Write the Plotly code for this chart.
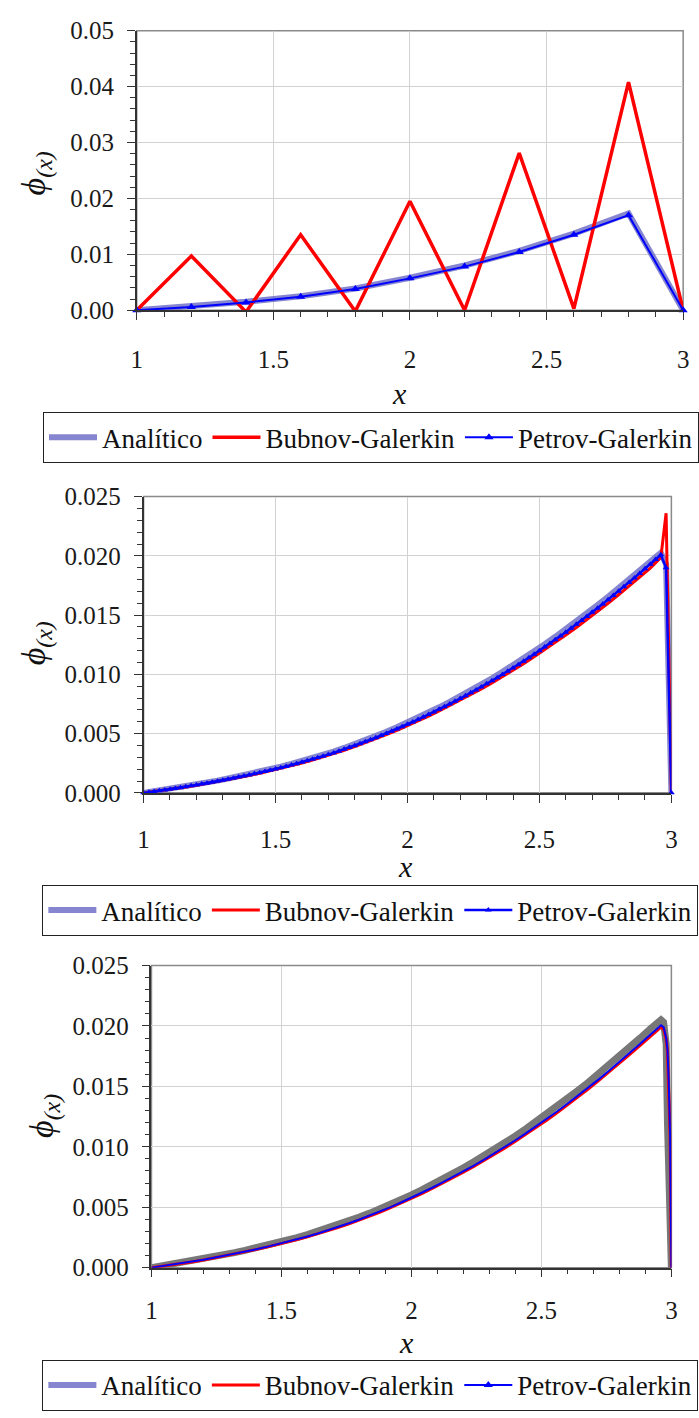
import numpy as np
import plotly.graph_objects as go

# ---------------------------------------------------------------
# Panel 1: coarse mesh (10 elements)
# ---------------------------------------------------------------
x_top = [1.0, 1.2, 1.4, 1.6, 1.8, 2.0, 2.2, 2.4, 2.6, 2.8, 3.0]
analitico_top = [0.0, 0.0007, 0.0015, 0.0025, 0.0039, 0.0058, 0.0080, 0.0106, 0.0137, 0.0173, 0.0]
bubnov_top = [0.0, 0.0097, -0.0003, 0.0135, -0.0002, 0.0195, 0.0000, 0.0281, 0.0003, 0.0408, 0.0]
petrov_top = [0.0, 0.0006, 0.0014, 0.0024, 0.0038, 0.0057, 0.0078, 0.0104, 0.0135, 0.0170, 0.0]

# ---------------------------------------------------------------
# Panel 2: 100 elements
# ---------------------------------------------------------------
x_mid_nodes = np.round(np.linspace(1.0, 3.0, 101), 3)
petrov_mid = [
    0.00000, 0.00006, 0.00012, 0.00018, 0.00024, 0.00031, 0.00037, 0.00044, 0.00051, 0.00059,
    0.00066, 0.00074, 0.00082, 0.00090, 0.00098, 0.00106, 0.00115, 0.00124, 0.00133, 0.00142,
    0.00151, 0.00161, 0.00170, 0.00180, 0.00191, 0.00201, 0.00212, 0.00223, 0.00235, 0.00246,
    0.00258, 0.00270, 0.00283, 0.00296, 0.00309, 0.00323, 0.00337, 0.00352, 0.00367, 0.00382,
    0.00398, 0.00414, 0.00431, 0.00448, 0.00465, 0.00483, 0.00501, 0.00520, 0.00539, 0.00558,
    0.00578, 0.00598, 0.00619, 0.00640, 0.00661, 0.00683, 0.00705, 0.00727, 0.00750, 0.00773,
    0.00796, 0.00820, 0.00844, 0.00869, 0.00894, 0.00920, 0.00946, 0.00972, 0.00999, 0.01026,
    0.01054, 0.01082, 0.01111, 0.01140, 0.01170, 0.01200, 0.01230, 0.01261, 0.01292, 0.01324,
    0.01356, 0.01389, 0.01422, 0.01455, 0.01489, 0.01524, 0.01558, 0.01594, 0.01629, 0.01665,
    0.01702, 0.01739, 0.01776, 0.01814, 0.01852, 0.01891, 0.01930, 0.01969, 0.02009, 0.01900,
    0.00000,
]
x_mid_curve = list(np.round(np.linspace(1.0, 2.96, 50), 3)) + [2.98, 3.0]
analitico_mid = [
    0.0, 0.00013, 0.00026, 0.00040, 0.00054, 0.00070, 0.00086, 0.00103, 0.00121, 0.00139,
    0.00158, 0.00178, 0.00199, 0.00221, 0.00244, 0.00268, 0.00294, 0.00320, 0.00349, 0.00379,
    0.00411, 0.00444, 0.00479, 0.00515, 0.00554, 0.00594, 0.00635, 0.00678, 0.00722, 0.00768,
    0.00815, 0.00864, 0.00914, 0.00967, 0.01021, 0.01076, 0.01134, 0.01193, 0.01254, 0.01317,
    0.01381, 0.01447, 0.01515, 0.01584, 0.01655, 0.01727, 0.01801, 0.01876, 0.01953, 0.02025,
    0.01930, 0.0,
]
bubnov_mid = [
    0.0, 0.00011, 0.00022, 0.00035, 0.00049, 0.00063, 0.00079, 0.00095, 0.00111, 0.00129,
    0.00147, 0.00166, 0.00186, 0.00207, 0.00229, 0.00252, 0.00277, 0.00303, 0.00330, 0.00359,
    0.00390, 0.00422, 0.00456, 0.00491, 0.00528, 0.00567, 0.00607, 0.00648, 0.00691, 0.00736,
    0.00781, 0.00828, 0.00877, 0.00928, 0.00980, 0.01034, 0.01090, 0.01148, 0.01207, 0.01268,
    0.01331, 0.01396, 0.01462, 0.01530, 0.01600, 0.01672, 0.01745, 0.01820, 0.01897, 0.01985,
    0.02360, 0.0,
]

# ---------------------------------------------------------------
# Panel 3: refined mesh near the outflow boundary
# ---------------------------------------------------------------
x_bot = list(np.round(np.linspace(1.0, 2.96, 50), 3)) + [2.97, 2.98, 2.985, 2.99, 2.995, 3.0]
analitico_bot = [
    0.0, 0.00014, 0.00027, 0.00041, 0.00056, 0.00072, 0.00089, 0.00106, 0.00124, 0.00143,
    0.00162, 0.00182, 0.00203, 0.00226, 0.00249, 0.00274, 0.00300, 0.00327, 0.00355, 0.00386,
    0.00418, 0.00451, 0.00486, 0.00523, 0.00562, 0.00602, 0.00644, 0.00687, 0.00732, 0.00778,
    0.00826, 0.00876, 0.00927, 0.00980, 0.01034, 0.01090, 0.01148, 0.01208, 0.01270, 0.01333,
    0.01398, 0.01465, 0.01533, 0.01603, 0.01675, 0.01749, 0.01824, 0.01900, 0.01978, 0.02050,
    0.02030, 0.01850, 0.01200, 0.00500, 0.00150, 0.0,
]
bubnov_bot = [
    0.0, 0.00011, 0.00023, 0.00036, 0.00049, 0.00064, 0.00080, 0.00096, 0.00113, 0.00131,
    0.00149, 0.00168, 0.00188, 0.00209, 0.00232, 0.00255, 0.00280, 0.00306, 0.00333, 0.00363,
    0.00394, 0.00426, 0.00460, 0.00496, 0.00533, 0.00572, 0.00613, 0.00655, 0.00698, 0.00743,
    0.00789, 0.00837, 0.00886, 0.00938, 0.00991, 0.01045, 0.01102, 0.01160, 0.01220, 0.01282,
    0.01346, 0.01411, 0.01478, 0.01547, 0.01618, 0.01690, 0.01764, 0.01840, 0.01917, 0.01990,
    0.01975, 0.01890, 0.01790, 0.01520, 0.01100, 0.0,
]
petrov_bot = [
    0.0, 0.00012, 0.00024, 0.00037, 0.00051, 0.00066, 0.00082, 0.00098, 0.00115, 0.00133,
    0.00151, 0.00170, 0.00191, 0.00212, 0.00235, 0.00258, 0.00283, 0.00309, 0.00337, 0.00367,
    0.00398, 0.00431, 0.00465, 0.00501, 0.00539, 0.00578, 0.00619, 0.00661, 0.00705, 0.00750,
    0.00796, 0.00844, 0.00894, 0.00946, 0.00999, 0.01054, 0.01111, 0.01170, 0.01230, 0.01292,
    0.01356, 0.01422, 0.01489, 0.01558, 0.01629, 0.01702, 0.01776, 0.01852, 0.01930, 0.02005,
    0.01990, 0.01900, 0.01800, 0.01530, 0.01100, 0.0,
]

series_names = ["Analítico", "Bubnov-Galerkin", "Petrov-Galerkin"]

# ---------------------------------------------------------------
# Styling
# ---------------------------------------------------------------
W, H = 699, 1418
FONT = "Liberation Serif, Times New Roman, DejaVu Serif, serif"
LAVENDER = "rgba(112,112,200,0.85)"
GREY = "rgb(120,120,120)"
RED = "#ff0000"
BLUE = "#0000ff"
AXIS = "#333333"
FRAME = "#8a8a8a"
GRID = "#d2d2d2"
TXT = "#1a1a1a"

# plot-area boxes in pixels: (left, right, top, bottom)
boxes = [(133, 689, 18, 303), (140, 677, 493, 795), (148, 677, 971, 1279)]
ytick_fmt = [".2f", ".3f", ".3f"]
ymax = [0.05, 0.025, 0.025]
ydtick = [0.01, 0.005, 0.005]
yminor = [0.002, 0.001, 0.001]
legend_pos = [(41, 407), (37, 889), (37, 1373)]
xtitle_pos = [(400, 388), (406, 870), (407, 1355)]
ytitle_pos = [(30, 163), (30, 642), (38, 1124)]
xlabel_standoff = [18, 15, 12]

fig = go.Figure()


def add(i, x, y, **kw):
    sfx = "" if i == 0 else str(i + 1)
    fig.add_trace(go.Scatter(x=x, y=y, xaxis="x" + sfx, yaxis="y" + sfx,
                             legend="legend" + sfx, cliponaxis=False, **kw))


# panel 1
add(0, x_top, analitico_top, mode="lines", name=series_names[0],
    line=dict(color=LAVENDER, width=6))
add(0, x_top, bubnov_top, mode="lines", name=series_names[1],
    line=dict(color=RED, width=3.5))
add(0, x_top, petrov_top, mode="lines+markers", name=series_names[2],
    line=dict(color=BLUE, width=2),
    marker=dict(symbol="triangle-up", size=8, color=BLUE))

# panel 2
add(1, x_mid_curve, analitico_mid, mode="lines", name=series_names[0],
    line=dict(color=LAVENDER, width=6))
add(1, x_mid_curve, bubnov_mid, mode="lines", name=series_names[1],
    line=dict(color=RED, width=3))
add(1, x_mid_nodes, petrov_mid, mode="lines+markers", name=series_names[2],
    line=dict(color=BLUE, width=2.5),
    marker=dict(symbol="triangle-up", size=6, color=BLUE))

# panel 3: curves drawn without legend entries, legend keys added separately
add(2, x_bot, analitico_bot, mode="lines", showlegend=False,
    line=dict(color=GREY, width=7))
add(2, x_bot, bubnov_bot, mode="lines", showlegend=False,
    line=dict(color=RED, width=3))
add(2, x_bot, petrov_bot, mode="lines", showlegend=False,
    line=dict(color=BLUE, width=2))
add(2, [None], [None], mode="lines", name=series_names[0],
    line=dict(color=LAVENDER, width=6))
add(2, [None], [None], mode="lines", name=series_names[1],
    line=dict(color=RED, width=3))
add(2, [None], [None], mode="lines+markers", name=series_names[2],
    line=dict(color=BLUE, width=2),
    marker=dict(symbol="triangle-up", size=8, color=BLUE))

layout = dict(
    width=W, height=H,
    margin=dict(l=0, r=0, t=0, b=0),
    paper_bgcolor="white", plot_bgcolor="white",
    font=dict(family=FONT, color=TXT),
    showlegend=True,
    shapes=[], annotations=[],
)

for i, (l, r, t, b) in enumerate(boxes):
    sfx = "" if i == 0 else str(i + 1)
    xd = [l / W, r / W]
    yd = [1 - b / H, 1 - t / H]
    layout["xaxis" + sfx] = dict(
        domain=xd, anchor="y" + sfx, range=[1, 3], tick0=1, dtick=0.5,
        showgrid=True, gridcolor=GRID, gridwidth=1, zeroline=False,
        showline=True, linecolor=AXIS, linewidth=1.5,
        ticks="outside", ticklen=8, tickwidth=1.2, tickcolor=AXIS,
        minor=dict(dtick=0.1, tick0=1, ticks="outside", ticklen=5,
                   tickwidth=1, tickcolor=AXIS, showgrid=False),
        tickfont=dict(family=FONT, size=25, color=TXT),
        ticklabelstandoff=xlabel_standoff[i],
    )
    layout["yaxis" + sfx] = dict(
        domain=yd, anchor="x" + sfx, range=[0, ymax[i]], tick0=0, dtick=ydtick[i],
        tickformat=ytick_fmt[i],
        showgrid=True, gridcolor=GRID, gridwidth=1, zeroline=False,
        showline=True, linecolor=AXIS, linewidth=1.5,
        ticks="outside", ticklen=8, tickwidth=1.2, tickcolor=AXIS,
        minor=dict(dtick=yminor[i], tick0=0, ticks="outside", ticklen=5,
                   tickwidth=1, tickcolor=AXIS, showgrid=False),
        tickfont=dict(family=FONT, size=25, color=TXT),
        ticklabelstandoff=8,
    )
    # grey frame round the plotting area
    layout["shapes"].append(dict(
        type="rect", xref="x" + sfx + " domain", yref="y" + sfx + " domain",
        x0=0, x1=1, y0=0, y1=1, line=dict(color=FRAME, width=1.5), layer="below"))
    lx, ly = legend_pos[i]
    layout["legend" + sfx] = dict(
        x=lx / W, y=1 - ly / H, xanchor="left", yanchor="top",
        orientation="h", bgcolor="white", bordercolor="#222222", borderwidth=1,
        font=dict(family=FONT, size=27, color="#111111"),
        itemwidth=48, tracegroupgap=0,
    )
    tx, ty = xtitle_pos[i]
    layout["annotations"].append(dict(
        x=tx / W, y=1 - ty / H, xref="paper", yref="paper", showarrow=False,
        text="<i>x</i>", font=dict(family=FONT, size=30, color="#111111"),
        xanchor="center", yanchor="middle"))
    px, py = ytitle_pos[i]
    layout["annotations"].append(dict(
        x=px / W, y=1 - py / H, xref="paper", yref="paper", showarrow=False,
        text="<i>ϕ</i><sub><i>(x)</i></sub>", textangle=-90,
        font=dict(family=FONT, size=34, color="#111111"),
        xanchor="center", yanchor="middle"))

fig.update_layout(**layout)
fig.write_html("out.html")
